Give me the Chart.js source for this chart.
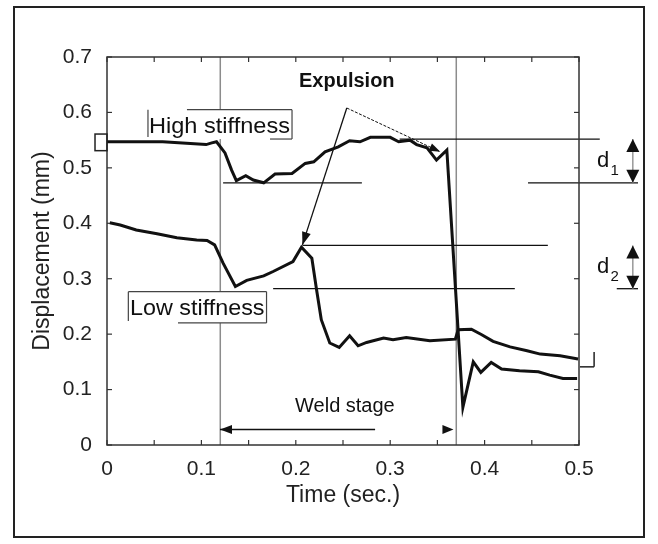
<!DOCTYPE html>
<html>
<head>
<meta charset="utf-8">
<script src="https://cdn.jsdelivr.net/npm/chart.js@4.4.0/dist/chart.umd.min.js"></script>
<style>
  html, body { margin: 0; padding: 0; background: #fff; }
  .wrap { position: relative; width: 658px; height: 544px; }
  .frame { position: absolute; left: 13px; top: 6px; width: 632px; height: 532px;
           border: 2px solid #222; box-sizing: border-box; pointer-events: none; }
</style>
</head>
<body>
<div class="wrap">
  <canvas id="chart" width="658" height="544"></canvas>
  <div class="frame"></div>
</div>
<script>
// Data (time in s, displacement in mm)
const highTime = [0, 0.03, 0.059, 0.08, 0.105, 0.111, 0.116, 0.125, 0.132, 0.137, 0.147, 0.155,
  0.166, 0.178, 0.196, 0.210, 0.219, 0.231, 0.245, 0.257, 0.268, 0.279, 0.300, 0.309, 0.321,
  0.328, 0.339, 0.349, 0.360, 0.377, 0.388, 0.396, 0.407, 0.418, 0.437, 0.457, 0.469, 0.483, 0.498];
const highDisp = [0.547, 0.547, 0.547, 0.545, 0.542, 0.545, 0.547, 0.527, 0.496, 0.477, 0.486, 0.478,
  0.473, 0.489, 0.490, 0.508, 0.511, 0.529, 0.538, 0.549, 0.547, 0.555, 0.555, 0.547, 0.550,
  0.542, 0.536, 0.514, 0.532, 0.068, 0.150, 0.131, 0.149, 0.137, 0.134, 0.132, 0.126, 0.120, 0.120];

const lowTime = [0.003, 0.014, 0.031, 0.053, 0.074, 0.095, 0.106, 0.114, 0.123, 0.136, 0.148, 0.166,
  0.176, 0.197, 0.206, 0.217, 0.222, 0.227, 0.236, 0.246, 0.257, 0.266, 0.275, 0.293, 0.303,
  0.317, 0.342, 0.369, 0.372, 0.386, 0.397, 0.409, 0.427, 0.445, 0.459, 0.480, 0.499];
const lowDisp = [0.401, 0.397, 0.388, 0.381, 0.374, 0.370, 0.369, 0.361, 0.328, 0.286, 0.297, 0.305,
  0.313, 0.331, 0.357, 0.337, 0.280, 0.226, 0.184, 0.176, 0.197, 0.179, 0.185, 0.193, 0.190,
  0.194, 0.188, 0.191, 0.208, 0.209, 0.199, 0.187, 0.177, 0.170, 0.164, 0.161, 0.155];

// weld stage boundaries and the d1 / d2 reference levels
const stageTimes = [0.12, 0.37];
const d1Levels = [0.552, 0.473];
const d2Levels = [0.36, 0.282];

const FONT = "'Liberation Sans', Arial, Helvetica, sans-serif";

function fmtTick(v) {
  const r = Math.round(v * 10);
  if (Math.abs(v * 10 - r) > 1e-6) return '';
  return r === 0 ? '0' : (r / 10).toFixed(1);
}

// everything that is not a data curve: box, inner ticks, guide lines, labels, arrows
const overlay = {
  id: 'overlay',
  beforeDatasetsDraw(chart) {
    const { ctx, chartArea: a, scales: { x, y } } = chart;
    const px = t => x.getPixelForValue(t), py = v => y.getPixelForValue(v);
    const seg = (x1, y1, x2, y2) => { ctx.beginPath(); ctx.moveTo(x1, y1); ctx.lineTo(x2, y2); ctx.stroke(); };
    ctx.save();

    // stage lines
    ctx.strokeStyle = '#8c8c8c';
    ctx.lineWidth = 1.5;
    stageTimes.forEach(t => seg(px(t), a.top, px(t), a.bottom));

    // horizontal reference lines
    ctx.strokeStyle = '#111';
    ctx.lineWidth = 1.3;
    seg(px(0.31), py(d1Levels[0]), px(0.522), py(d1Levels[0]));
    seg(px(0.123), py(d1Levels[1]), px(0.27), py(d1Levels[1]));
    seg(px(0.446), py(d1Levels[1]), px(0.5625), py(d1Levels[1]));
    seg(px(0.207), py(d2Levels[0]), px(0.467), py(d2Levels[0]));
    seg(px(0.176), py(d2Levels[1]), px(0.432), py(d2Levels[1]));
    seg(px(0.540), py(d2Levels[1]), px(0.5625), py(d2Levels[1]));

    // axis box
    ctx.strokeStyle = '#333';
    ctx.lineWidth = 1.5;
    ctx.strokeRect(a.left, a.top, a.right - a.left, a.bottom - a.top);

    // inner ticks
    ctx.lineWidth = 1.2;
    x.ticks.forEach(tk => {
      const xx = px(tk.value);
      seg(xx, a.bottom, xx, a.bottom - 5);
      seg(xx, a.top, xx, a.top + 5);
    });
    y.ticks.forEach(tk => {
      const yy = py(tk.value);
      seg(a.left, yy, a.left + 5, yy);
      seg(a.right, yy, a.right - 5, yy);
    });
    ctx.restore();
  },
  afterDatasetsDraw(chart) {
    const { ctx, scales: { x, y } } = chart;
    const px = t => x.getPixelForValue(t), py = v => y.getPixelForValue(v);
    const seg = (x1, y1, x2, y2) => { ctx.beginPath(); ctx.moveTo(x1, y1); ctx.lineTo(x2, y2); ctx.stroke(); };
    const head = (fx, fy, tx, ty, len, wid) => {
      const ang = Math.atan2(ty - fy, tx - fx);
      ctx.beginPath();
      ctx.moveTo(tx, ty);
      ctx.lineTo(tx - len * Math.cos(ang) + wid / 2 * Math.sin(ang), ty - len * Math.sin(ang) - wid / 2 * Math.cos(ang));
      ctx.lineTo(tx - len * Math.cos(ang) - wid / 2 * Math.sin(ang), ty - len * Math.sin(ang) + wid / 2 * Math.cos(ang));
      ctx.closePath();
      ctx.fill();
    };
    ctx.save();
    ctx.fillStyle = '#111';
    ctx.strokeStyle = '#111';

    // label boxes (white filled, partial outline like the scan)
    const labelBox = (text, tx, tv, box) => {
      ctx.font = '22px ' + FONT;
      const w = ctx.measureText(text).width;
      ctx.fillStyle = '#fff';
      ctx.fillRect(px(box.l), py(box.t), px(box.r) - px(box.l), py(box.b) - py(box.t));
      ctx.fillStyle = '#111';
      ctx.textAlign = 'left';
      ctx.textBaseline = 'alphabetic';
      ctx.save();
      ctx.translate(px(tx), py(tv));
      ctx.scale((px(box.r) - px(tx) - 2) / w, 1);
      ctx.fillText(text, 0, 0);
      ctx.restore();
      ctx.strokeStyle = '#444';
      ctx.lineWidth = 1.2;
      seg(px(box.l), py(box.t), px(box.l), py(box.b) - 2);
      seg(px(box.topFrom), py(box.t), px(box.r), py(box.t));
      seg(px(box.r), py(box.t), px(box.r), py(box.b));
      seg(px(box.botFrom), py(box.b), px(box.r), py(box.b));
    };
    labelBox('High stiffness', 0.0445, 0.563,
      { l: 0.0434, r: 0.196, t: 0.605, b: 0.552, topFrom: 0.0847, botFrom: 0.1727 });
    labelBox('Low stiffness', 0.0244, 0.2347,
      { l: 0.0226, r: 0.169, t: 0.2767, b: 0.2202, topFrom: 0.0226, botFrom: 0.0752 });

    // start marker square and end bracket
    ctx.strokeStyle = '#222';
    ctx.lineWidth = 1.5;
    ctx.strokeRect(px(-0.0127), py(0.561), px(0) - px(-0.0127), py(0.531) - py(0.561));
    seg(px(0.516), py(0.168), px(0.516), py(0.141));
    seg(px(0.501), py(0.141), px(0.516), py(0.141));

    // Expulsion arrows
    ctx.fillStyle = '#111';
    ctx.strokeStyle = '#111';
    ctx.lineWidth = 1.3;
    const ax = px(0.254), ay = py(0.608);
    seg(ax, ay, px(0.207), py(0.361));
    head(ax, ay, px(0.207), py(0.361), 13, 9);
    ctx.lineWidth = 1;
    ctx.setLineDash([3, 1.5]);
    seg(ax, ay, px(0.353), py(0.529));
    ctx.setLineDash([]);
    head(ax, ay, px(0.353), py(0.529), 11, 8);
    ctx.font = 'bold 20px ' + FONT;
    ctx.textAlign = 'center';
    ctx.textBaseline = 'middle';
    ctx.fillText('Expulsion', px(0.254), py(0.655));

    // Weld stage arrow
    ctx.lineWidth = 1.5;
    const wy = py(0.028);
    seg(px(0.1197), wy, px(0.284), wy);
    head(px(0.2), wy, px(0.1197), wy, 12, 9);
    head(px(0.3), wy, px(0.367), wy, 11, 9);
    ctx.font = '20px ' + FONT;
    ctx.textBaseline = 'alphabetic';
    ctx.fillText('Weld stage', px(0.252), py(0.06));

    // d1 / d2 double arrows
    const dx = px(0.557);
    const dArrow = (top, bot) => {
      ctx.strokeStyle = '#999';
      ctx.lineWidth = 1.5;
      seg(dx, py(top), dx, py(bot));
      ctx.fillStyle = '#111';
      head(dx, py(bot), dx, py(top), 13, 13);
      head(dx, py(top), dx, py(bot), 13, 13);
    };
    dArrow(d1Levels[0], d1Levels[1]);
    dArrow(d2Levels[0], d2Levels[1]);
    ctx.fillStyle = '#111';
    ctx.textAlign = 'left';
    ctx.font = '22px ' + FONT;
    ctx.fillText('d', px(0.519), py(0.502));
    ctx.fillText('d', px(0.519), py(0.310));
    ctx.font = '15px ' + FONT;
    ctx.fillText('1', px(0.5335), py(0.488));
    ctx.fillText('2', px(0.5335), py(0.296));
    ctx.restore();
  }
};

const ctx = document.getElementById('chart').getContext('2d');
new Chart(ctx, {
  type: 'line',
  data: {
    datasets: [
      {
        label: 'High stiffness',
        data: highTime.map((t, i) => ({ x: t, y: highDisp[i] })),
        borderColor: '#111',
        borderWidth: 3,
        pointRadius: 0,
        tension: 0,
        fill: false
      },
      {
        label: 'Low stiffness',
        data: lowTime.map((t, i) => ({ x: t, y: lowDisp[i] })),
        borderColor: '#111',
        borderWidth: 3,
        pointRadius: 0,
        tension: 0,
        fill: false
      }
    ]
  },
  options: {
    responsive: false,
    animation: false,
    events: [],
    layout: { padding: { left: 0, top: 57, right: 79, bottom: 0 } },
    plugins: { legend: { display: false }, tooltip: { enabled: false } },
    scales: {
      x: {
        type: 'linear',
        min: 0,
        max: 0.5,
        grid: { display: false },
        border: { display: false },
        ticks: {
          stepSize: 0.05,
          autoSkip: false,
          maxRotation: 0,
          padding: 4,
          color: '#222',
          font: { family: FONT, size: 21 },
          callback: v => fmtTick(v)
        },
        title: {
          display: true,
          text: 'Time (sec.)',
          color: '#222',
          font: { family: FONT, size: 23 },
          padding: { top: 0, bottom: 35 }
        },
        afterFit: s => { s.height = 99; }
      },
      y: {
        type: 'linear',
        min: 0,
        max: 0.7,
        grid: { display: false },
        border: { display: false },
        ticks: {
          stepSize: 0.1,
          padding: 7,
          color: '#222',
          font: { family: FONT, size: 21 },
          callback: v => fmtTick(v)
        },
        title: {
          display: true,
          text: 'Displacement (mm)',
          color: '#222',
          font: { family: FONT, size: 23 },
          padding: { top: 29, bottom: 0 }
        },
        afterFit: s => { s.width = 107; }
      }
    }
  },
  plugins: [overlay]
});
</script>
</body>
</html>
